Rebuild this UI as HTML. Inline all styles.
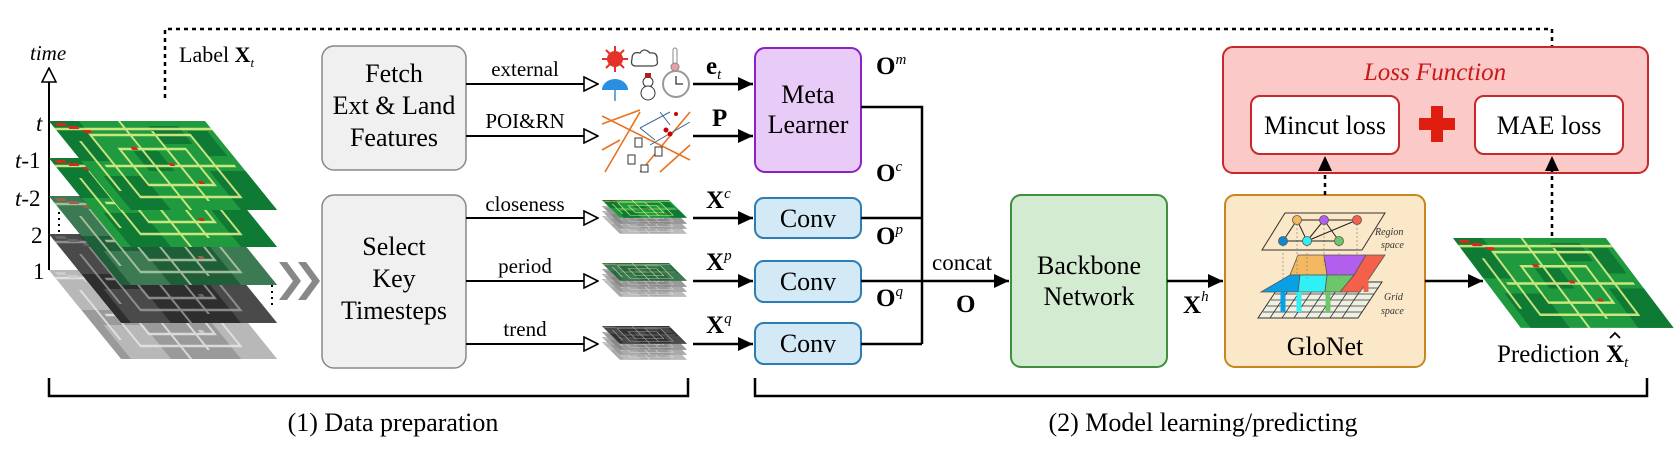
<!DOCTYPE html>
<html><head><meta charset="utf-8"><style>
html,body{margin:0;padding:0;background:#fff}
svg, svg text{font-family:"Liberation Serif","Times New Roman",serif}
</style></head><body>
<svg width="1677" height="447" viewBox="0 0 1677 447" xmlns="http://www.w3.org/2000/svg" font-family="Liberation Serif, Times New Roman, serif">
<defs>
<symbol id="hm" viewBox="0 0 156 89" width="156" height="89" overflow="visible">
  <rect x="0" y="0" width="156" height="89" style="fill:var(--b)"/>
  <g style="fill:var(--d)">
    <rect x="0" y="0" width="30" height="40"/><rect x="120" y="50" width="36" height="39"/>
    <rect x="60" y="30" width="25" height="20"/><rect x="10" y="55" width="40" height="34"/>
    <rect x="95" y="5" width="30" height="18"/><rect x="130" y="10" width="20" height="25"/>
  </g>
  <g fill="none" style="stroke:var(--l)" stroke-width="2.5" opacity="0.85">
    <rect x="30" y="14" width="100" height="62"/>
    <rect x="48" y="28" width="66" height="36"/>
    <line x1="0" y1="8" x2="156" y2="8"/>
    <line x1="70" y1="0" x2="70" y2="89"/>
    <line x1="20" y1="45" x2="150" y2="45"/>
    <line x1="95" y1="10" x2="95" y2="80"/>
    <line x1="15" y1="20" x2="15" y2="70"/>
  </g>
  <g style="fill:var(--r)">
    <rect x="4" y="2" width="10" height="3"/><rect x="14" y="5" width="10" height="3"/>
    <rect x="26" y="9" width="8" height="3"/><rect x="60" y="26" width="6" height="3"/>
    <rect x="85" y="42" width="5" height="3"/><rect x="100" y="60" width="5" height="3"/>
  </g>
</symbol>
<marker id="hh" markerWidth="16" markerHeight="16" refX="15" refY="8" orient="auto" markerUnits="userSpaceOnUse"><path d="M1,1 L15,8 L1,15 Z" fill="#fff" stroke="#000" stroke-width="1.6"/></marker>
<marker id="bh" markerWidth="16" markerHeight="16" refX="15" refY="8" orient="auto" markerUnits="userSpaceOnUse"><path d="M0,1 L15,8 L0,15 Z" fill="#000"/></marker>
</defs>

<path d="M165,98 V29 H1552 V90" fill="none" stroke="#000" stroke-width="2.5" stroke-dasharray="4,4" marker-end="url(#bh)"/>

<text x="30" y="60" font-size="21" font-style="italic">time</text>
<line x1="49" y1="270" x2="49" y2="68" stroke="#000" stroke-width="2" marker-end="url(#hh)"/>
<g font-size="23">
<text x="36" y="131" font-style="italic">t</text>
<text x="15" y="168"><tspan font-style="italic">t</tspan>-1</text>
<text x="15" y="206"><tspan font-style="italic">t</tspan>-2</text>
<text x="31" y="243">2</text>
<text x="33" y="279">1</text>
</g>
<text x="179" y="62" font-size="22">Label <tspan font-weight="bold">X</tspan><tspan font-size="13" font-style="italic" dy="5">t</tspan></text>

<g transform="translate(49,270) skewX(39)"><use href="#hm" style="--b:#9a9a9a;--d:#b8b8b8;--l:#e6e6e6;--r:#ccc"/></g>
<g transform="translate(49,234) skewX(39)"><use href="#hm" style="--b:#2e2e2e;--d:#4a4a4a;--l:#9a9a9a;--r:#666"/></g>
<g transform="translate(49,196) skewX(39)"><use href="#hm" style="--b:#1e5e38;--d:#3b7a52;--l:#b9c9a8;--r:#a06050"/></g>
<g transform="translate(49,158) skewX(39)"><use href="#hm" style="--b:#1f9a3e;--d:#0f7a34;--l:#e8f58a;--r:#d32a1a"/></g>
<g transform="translate(49,121) skewX(39)"><use href="#hm" style="--b:#1f9a3e;--d:#0f7a34;--l:#e8f58a;--r:#d32a1a"/></g>
<line x1="59" y1="212" x2="59" y2="232" stroke="#000" stroke-width="2" stroke-dasharray="2,4"/>
<line x1="272" y1="285" x2="272" y2="306" stroke="#000" stroke-width="2" stroke-dasharray="2,4"/>
<path d="M279,262 l14,19 l-14,19 h8 l14,-19 l-14,-19z M298,262 l14,19 l-14,19 h8 l14,-19 l-14,-19z" fill="#888"/>

<rect x="322" y="46" width="144" height="124" rx="12" fill="#f0f0f0" stroke="#888" stroke-width="1.5"/>
<g font-size="26" text-anchor="middle">
<text x="394" y="82">Fetch</text><text x="394" y="114">Ext &amp; Land</text><text x="394" y="146">Features</text>
</g>
<rect x="322" y="195" width="144" height="173" rx="12" fill="#f0f0f0" stroke="#888" stroke-width="1.5"/>
<g font-size="26" text-anchor="middle">
<text x="394" y="255">Select</text><text x="394" y="287">Key</text><text x="394" y="319">Timesteps</text>
</g>

<g stroke="#000" stroke-width="2" marker-end="url(#hh)">
<line x1="466" y1="84" x2="598" y2="84"/>
<line x1="466" y1="136" x2="598" y2="136"/>
<line x1="466" y1="218" x2="598" y2="218"/>
<line x1="466" y1="281" x2="598" y2="281"/>
<line x1="466" y1="344" x2="598" y2="344"/>
</g>
<g font-size="21" text-anchor="middle">
<text x="525" y="76">external</text><text x="525" y="128">POI&amp;RN</text>
<text x="525" y="211">closeness</text><text x="525" y="273">period</text><text x="525" y="336">trend</text>
</g>

<g stroke="#e53228" stroke-width="2"><line x1="615" y1="46" x2="615" y2="72"/><line x1="602" y1="59" x2="628" y2="59"/><line x1="606" y1="50" x2="624" y2="68"/><line x1="624" y1="50" x2="606" y2="68"/></g>
<circle cx="615" cy="59" r="8" fill="#e53228"/>
<path d="M636,66 q-6,0 -4,-7 q0,-8 8,-6 q4,-6 10,0 q8,-1 7,7 q2,6 -5,6z" fill="#fff" stroke="#444" stroke-width="1.3"/>
<rect x="673" y="48" width="4" height="18" rx="2" fill="#fff" stroke="#888"/><circle cx="675" cy="67" r="4" fill="#e8a0a0" stroke="#888"/>
<path d="M602,90 a13,11 0 0 1 26,0z" fill="#2a8fe0"/><line x1="615" y1="90" x2="615" y2="101" stroke="#2a8fe0" stroke-width="1.5"/>
<circle cx="648" cy="82" r="5" fill="#fff" stroke="#333"/><circle cx="648" cy="93" r="7" fill="#fff" stroke="#333"/><rect x="645" y="73" width="6" height="5" fill="#a22"/>
<circle cx="676" cy="84" r="13" fill="#fff" stroke="#999" stroke-width="2"/><path d="M676,76 V84 H683" fill="none" stroke="#333" stroke-width="1.3"/>
<g stroke="#e87320" stroke-width="1.6" fill="none">
<line x1="602" y1="116" x2="690" y2="160"/><line x1="602" y1="124" x2="640" y2="110"/>
<line x1="605" y1="172" x2="640" y2="112"/><line x1="640" y1="172" x2="690" y2="112"/>
<line x1="602" y1="150" x2="620" y2="140"/><line x1="660" y1="172" x2="690" y2="145"/>
</g>
<g stroke="#3a6a9a" stroke-width="1" fill="none"><path d="M640,128 L670,112 M650,145 L690,122 M640,128 L655,140 M660,112 L670,125"/></g>
<g fill="#c00"><circle cx="666" cy="130" r="2.5"/><circle cx="670" cy="134" r="2.5"/><circle cx="676" cy="114" r="2"/></g>
<g fill="#fff" stroke="#333"><rect x="635" y="138" width="7" height="9"/><rect x="655" y="147" width="7" height="9"/><rect x="628" y="155" width="7" height="9"/><rect x="641" y="165" width="7" height="7"/></g>

<g transform="translate(602,200)">
<g transform="translate(0,16) skewX(45)"><use href="#hm" transform="scale(0.43,0.2)" style="--b:#aaa;--d:#bbb;--l:#ddd;--r:#ccc"/></g>
<g transform="translate(0,11) skewX(45)"><use href="#hm" transform="scale(0.43,0.2)" style="--b:#999;--d:#aaa;--l:#ddd;--r:#ccc"/></g>
<g transform="translate(0,6) skewX(45)"><use href="#hm" transform="scale(0.43,0.2)" style="--b:#888;--d:#999;--l:#ccc;--r:#ccc"/></g>
<g transform="translate(0,0) skewX(45)"><use href="#hm" transform="scale(0.43,0.2)" style="--b:#1f9a3e;--d:#0f7a34;--l:#e8f58a;--r:#d32a1a"/></g>
</g>
<g transform="translate(602,263)">
<g transform="translate(0,16) skewX(45)"><use href="#hm" transform="scale(0.43,0.2)" style="--b:#aaa;--d:#bbb;--l:#ddd;--r:#ccc"/></g>
<g transform="translate(0,11) skewX(45)"><use href="#hm" transform="scale(0.43,0.2)" style="--b:#999;--d:#aaa;--l:#ddd;--r:#ccc"/></g>
<g transform="translate(0,6) skewX(45)"><use href="#hm" transform="scale(0.43,0.2)" style="--b:#888;--d:#999;--l:#ccc;--r:#ccc"/></g>
<g transform="translate(0,0) skewX(45)"><use href="#hm" transform="scale(0.43,0.2)" style="--b:#2a6a40;--d:#3b7a52;--l:#c9d9a8;--r:#a06050"/></g>
</g>
<g transform="translate(602,326)">
<g transform="translate(0,16) skewX(45)"><use href="#hm" transform="scale(0.43,0.2)" style="--b:#aaa;--d:#bbb;--l:#ddd;--r:#ccc"/></g>
<g transform="translate(0,11) skewX(45)"><use href="#hm" transform="scale(0.43,0.2)" style="--b:#999;--d:#aaa;--l:#ddd;--r:#ccc"/></g>
<g transform="translate(0,6) skewX(45)"><use href="#hm" transform="scale(0.43,0.2)" style="--b:#888;--d:#999;--l:#ccc;--r:#ccc"/></g>
<g transform="translate(0,0) skewX(45)"><use href="#hm" transform="scale(0.43,0.2)" style="--b:#333;--d:#4a4a4a;--l:#aaa;--r:#666"/></g>
</g>

<g stroke="#000" stroke-width="2.5" marker-end="url(#bh)">
<line x1="693" y1="84" x2="753" y2="84"/>
<line x1="693" y1="136" x2="753" y2="136"/>
<line x1="693" y1="218" x2="753" y2="218"/>
<line x1="693" y1="281" x2="753" y2="281"/>
<line x1="693" y1="344" x2="753" y2="344"/>
</g>
<g font-size="25" font-weight="bold">
<text x="706" y="74">e<tspan font-size="15" font-weight="normal" font-style="italic" dy="5">t</tspan></text>
<text x="712" y="126">P</text>
<text x="706" y="208">X<tspan font-size="15" font-weight="normal" font-style="italic" dy="-10">c</tspan></text>
<text x="706" y="270">X<tspan font-size="15" font-weight="normal" font-style="italic" dy="-10">p</tspan></text>
<text x="706" y="333">X<tspan font-size="15" font-weight="normal" font-style="italic" dy="-10">q</tspan></text>
</g>

<rect x="755" y="48" width="106" height="124" rx="10" fill="#e9cbf7" stroke="#8a23c7" stroke-width="2"/>
<g font-size="26" text-anchor="middle"><text x="808" y="103">Meta</text><text x="808" y="133">Learner</text></g>
<g fill="#d3e9f6" stroke="#2b7db3" stroke-width="2">
<rect x="755" y="198" width="106" height="40" rx="9"/>
<rect x="755" y="261" width="106" height="41" rx="9"/>
<rect x="755" y="323" width="106" height="41" rx="9"/>
</g>
<g font-size="26" text-anchor="middle"><text x="808" y="227">Conv</text><text x="808" y="290">Conv</text><text x="808" y="352">Conv</text></g>

<path d="M861,107 H922 V344 M861,218 H922 M861,344 H922" fill="none" stroke="#000" stroke-width="2.5"/>
<line x1="861" y1="281" x2="1009" y2="281" stroke="#000" stroke-width="2.5" marker-end="url(#bh)"/>
<g font-size="25" font-weight="bold">
<text x="876" y="74">O<tspan font-size="15" font-weight="normal" font-style="italic" dy="-10">m</tspan></text>
<text x="876" y="181">O<tspan font-size="15" font-weight="normal" font-style="italic" dy="-10">c</tspan></text>
<text x="876" y="244">O<tspan font-size="15" font-weight="normal" font-style="italic" dy="-10">p</tspan></text>
<text x="876" y="306">O<tspan font-size="15" font-weight="normal" font-style="italic" dy="-10">q</tspan></text>
<text x="956" y="312">O</text>
</g>
<text x="932" y="270" font-size="23">concat</text>

<rect x="1011" y="195" width="156" height="172" rx="10" fill="#d2ebd1" stroke="#3f8f3c" stroke-width="2"/>
<g font-size="26" text-anchor="middle"><text x="1089" y="274">Backbone</text><text x="1089" y="305">Network</text></g>
<line x1="1167" y1="281" x2="1223" y2="281" stroke="#000" stroke-width="2.5" marker-end="url(#bh)"/>
<text x="1183" y="313" font-size="25" font-weight="bold">X<tspan font-size="15" font-weight="normal" font-style="italic" dy="-12">h</tspan></text>

<rect x="1225" y="195" width="200" height="172" rx="10" fill="#fbe8c8" stroke="#c8861f" stroke-width="2"/>
<text x="1325" y="355" font-size="26" text-anchor="middle">GloNet</text>
<path d="M1282,282 H1382 L1358,318 H1258 Z" stroke="#333" stroke-width="1" fill="#eef0e2"/>
<g stroke="#333" stroke-width="0.8">
<line x1="1279" y1="288" x2="1378" y2="288"/><line x1="1275" y1="294" x2="1374" y2="294"/><line x1="1271" y1="300" x2="1370" y2="300"/><line x1="1267" y1="306" x2="1366" y2="306"/><line x1="1263" y1="312" x2="1362" y2="312"/>
<line x1="1294" y1="282" x2="1270" y2="318"/><line x1="1306" y1="282" x2="1282" y2="318"/><line x1="1318" y1="282" x2="1294" y2="318"/><line x1="1330" y1="282" x2="1306" y2="318"/><line x1="1342" y1="282" x2="1318" y2="318"/><line x1="1354" y1="282" x2="1330" y2="318"/><line x1="1366" y1="282" x2="1342" y2="318"/>
</g>
<path d="M1298,255 H1324 L1327,275 H1290 Z" fill="#f4b860" stroke="#555" stroke-width="0.8"/>
<path d="M1324,255 H1366 L1354,275 H1327 Z" fill="#b45ef0" stroke="#555" stroke-width="0.8"/>
<path d="M1366,255 H1385 L1360,292 H1340 L1354,275 Z" fill="#f5604a" stroke="#555" stroke-width="0.8"/>
<path d="M1290,275 H1300 L1298,292 H1261 Z" fill="#0aa0e6" stroke="#555" stroke-width="0.8"/>
<path d="M1300,275 H1327 L1325,292 H1298 Z" fill="#2ef0f5" stroke="#555" stroke-width="0.8"/>
<path d="M1327,275 H1354 L1340,292 H1325 Z" fill="#6cc76a" stroke="#555" stroke-width="0.8"/>
<g stroke-width="5"><line x1="1283" y1="312" x2="1283" y2="292" stroke="#0aa0e6"/><line x1="1299" y1="312" x2="1299" y2="292" stroke="#2ef0f5"/><line x1="1328" y1="312" x2="1328" y2="292" stroke="#6cc76a"/><line x1="1366" y1="292" x2="1366" y2="278" stroke="#f5604a"/></g>
<path d="M1285,213 H1385 L1362,250 H1262 Z" fill="none" stroke="#333" stroke-width="1"/>
<g stroke="#888" stroke-width="0.7" stroke-dasharray="2,2"><line x1="1297" y1="220" x2="1297" y2="275"/><line x1="1324" y1="220" x2="1324" y2="265"/><line x1="1357" y1="220" x2="1357" y2="265"/><line x1="1283" y1="241" x2="1283" y2="280"/><line x1="1307" y1="241" x2="1307" y2="280"/><line x1="1339" y1="241" x2="1339" y2="280"/></g>
<g stroke="#222" stroke-width="1"><line x1="1297" y1="220" x2="1357" y2="220"/><line x1="1297" y1="220" x2="1283" y2="241"/><line x1="1297" y1="220" x2="1307" y2="241"/><line x1="1324" y1="220" x2="1307" y2="241"/><line x1="1324" y1="220" x2="1339" y2="241"/><line x1="1357" y1="220" x2="1307" y2="241"/><line x1="1283" y1="241" x2="1339" y2="241"/></g>
<g stroke="#555" stroke-width="0.8"><circle cx="1297" cy="220" r="4.5" fill="#f4b860"/><circle cx="1324" cy="220" r="4.5" fill="#b45ef0"/><circle cx="1357" cy="220" r="4.5" fill="#f5604a"/><circle cx="1283" cy="241" r="4.5" fill="#0a8ad6"/><circle cx="1307" cy="241" r="4.5" fill="#2ef0f5"/><circle cx="1339" cy="241" r="4.5" fill="#6cc76a"/></g>
<g font-size="10" font-style="italic" fill="#333"><text x="1375" y="235">Region</text><text x="1381" y="248">space</text><text x="1384" y="300">Grid</text><text x="1381" y="314">space</text></g>

<line x1="1425" y1="281" x2="1483" y2="281" stroke="#000" stroke-width="2.5" marker-end="url(#bh)"/>

<g transform="translate(1453,238) skewX(37)"><use href="#hm" transform="scale(0.98,1.01)" style="--b:#1f9a3e;--d:#0f7a34;--l:#e8f58a;--r:#d32a1a"/></g>
<text x="1497" y="362" font-size="25">Prediction <tspan font-weight="bold">X</tspan><tspan font-size="15" font-style="italic" dy="5">t</tspan></text>
<path d="M1610,338 l5,-5 l5,5" fill="none" stroke="#000" stroke-width="1.8"/>

<rect x="1223" y="47" width="425" height="126" rx="10" fill="#fbc9c7" stroke="#c8282a" stroke-width="2"/>
<text x="1435" y="80" font-size="25" font-style="italic" fill="#c81818" text-anchor="middle">Loss Function</text>
<rect x="1251" y="96" width="148" height="58" rx="9" fill="#fff" stroke="#c8282a" stroke-width="2"/>
<rect x="1475" y="96" width="148" height="58" rx="9" fill="#fff" stroke="#c8282a" stroke-width="2"/>
<g font-size="26" text-anchor="middle"><text x="1325" y="134">Mincut loss</text><text x="1549" y="134">MAE loss</text></g>
<path d="M1431,106 h12 v12 h12 v12 h-12 v12 h-12 v-12 h-12 v-12 h12z" fill="#e01e10"/>

<line x1="1325" y1="195" x2="1325" y2="156" stroke="#000" stroke-width="2.5" stroke-dasharray="4,4" marker-end="url(#bh)"/>
<line x1="1552" y1="236" x2="1552" y2="156" stroke="#000" stroke-width="2.5" stroke-dasharray="4,4" marker-end="url(#bh)"/>

<path d="M49,378 V396 H688 V378" fill="none" stroke="#000" stroke-width="2.5"/>
<path d="M755,378 V396 H1647 V378" fill="none" stroke="#000" stroke-width="2.5"/>
<text x="393" y="431" font-size="26" text-anchor="middle">(1) Data preparation</text>
<text x="1203" y="431" font-size="26" text-anchor="middle">(2) Model learning/predicting</text>
</svg>
</body></html>
